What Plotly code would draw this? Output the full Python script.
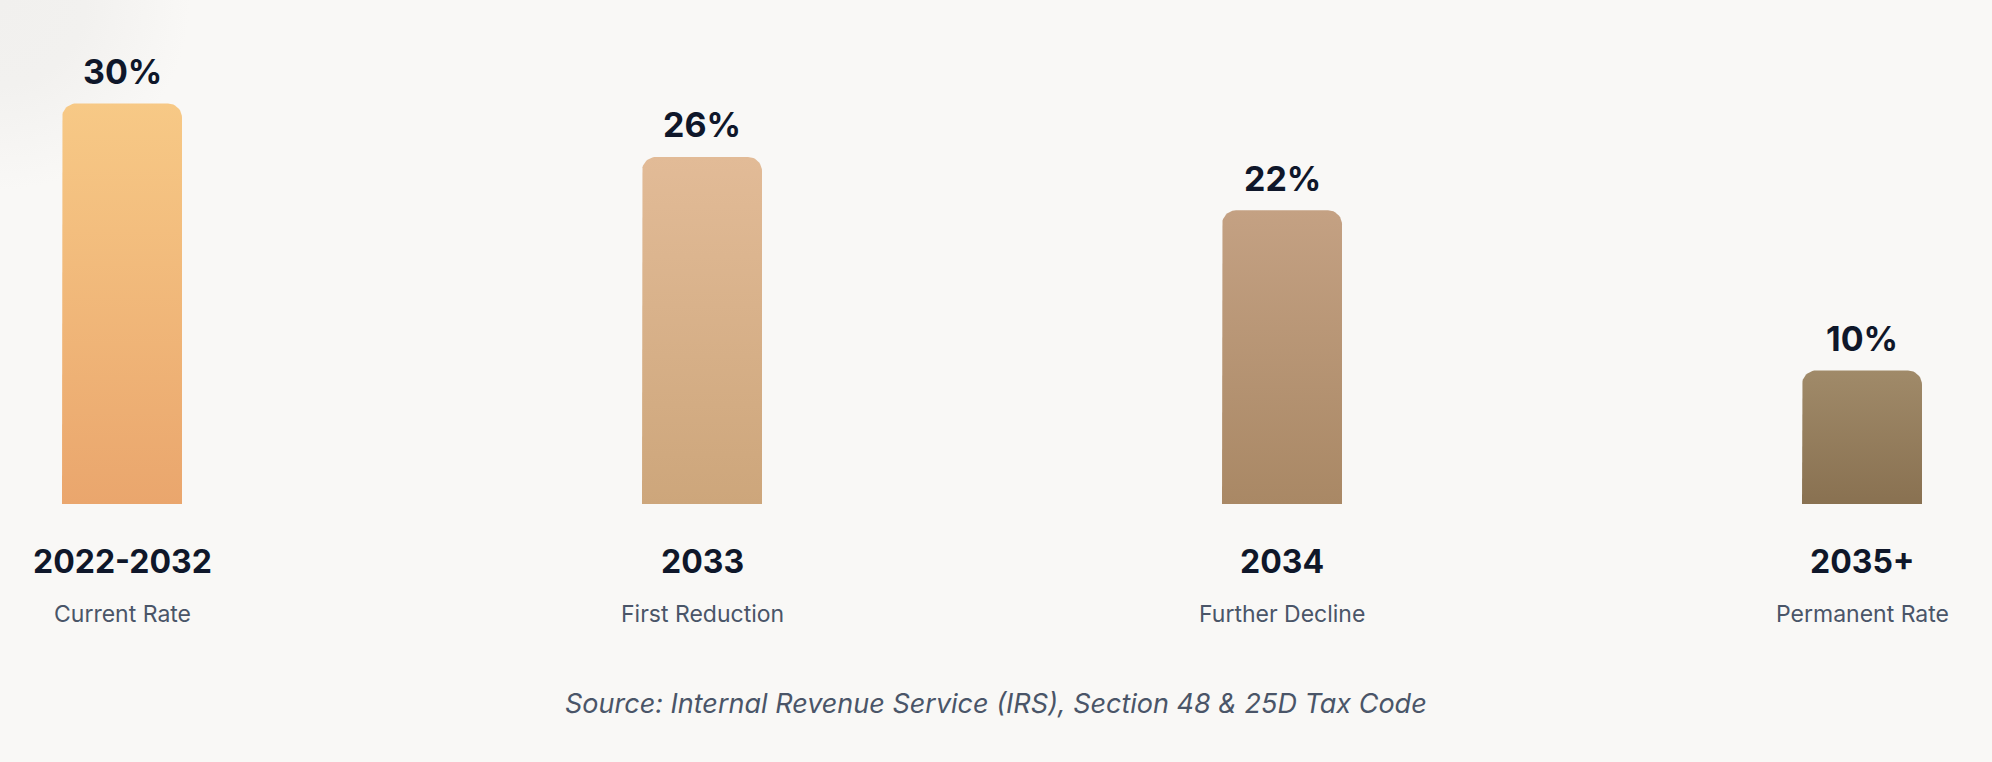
import math
import plotly.graph_objects as go

# ---- data ----
periods = ["2022-2032", "2033", "2034", "2035+"]
subtitles = ["Current Rate", "First Reduction", "Further Decline", "Permanent Rate"]
rates = [30, 26, 22, 10]
top_colors = ["#f7c986", "#e2bb97", "#c4a183", "#a08a69"]
bottom_colors = ["#eaa66d", "#cda67b", "#a98865", "#897151"]
source_text = "Source: Internal Revenue Service (IRS), Section 48 & 25D Tax Code"

BG = "#f9f8f6"

# ---- layout geometry ----
W, H = 1992, 762
first_center_px = 122
spacing_px = 580
base_px = 504
px_per_unit = 13.35
bar_w_px = 120
radius_px = 14

x_range = [-first_center_px / spacing_px, (W - first_center_px) / spacing_px]
y_range = [-(H - base_px) / px_per_unit, base_px / px_per_unit]

bw = bar_w_px / spacing_px
rx = radius_px / spacing_px
ry = radius_px / px_per_unit

fig = go.Figure()

# faint corner shading (top-left), centred on the plot corner
R_px = 190
cx, cy = x_range[0], y_range[1]
dx, dy = R_px / spacing_px, R_px / px_per_unit
fig.add_trace(go.Scatter(
    x=[cx - dx, cx + dx, cx + dx, cx - dx, cx - dx],
    y=[cy - dy, cy - dy, cy + dy, cy + dy, cy - dy],
    mode="lines", fill="toself", line=dict(width=0, color=BG),
    fillgradient=dict(type="radial",
                      colorscale=[[0, "#f1f0ee"], [0.45, "#f2f1ef"], [1, BG]]),
    hoverinfo="skip", showlegend=False,
))


def rounded_bar(xc, v, n=12):
    x0, x1 = xc - bw / 2, xc + bw / 2
    xs, ys = [x0], [0]
    for k in range(n + 1):
        a = math.pi - (math.pi / 2) * k / n
        xs.append(x0 + rx + rx * math.cos(a))
        ys.append(v - ry + ry * math.sin(a))
    for k in range(n + 1):
        a = math.pi / 2 - (math.pi / 2) * k / n
        xs.append(x1 - rx + rx * math.cos(a))
        ys.append(v - ry + ry * math.sin(a))
    xs.append(x1)
    ys.append(0)
    xs.append(x0)
    ys.append(0)
    return xs, ys


for i, (v, tc, bc) in enumerate(zip(rates, top_colors, bottom_colors)):
    xs, ys = rounded_bar(i, v)
    fig.add_trace(go.Scatter(
        x=xs, y=ys, mode="lines", fill="toself",
        line=dict(width=0, color=bc),
        fillgradient=dict(type="vertical", colorscale=[[0, bc], [1, tc]],
                          start=0, stop=v),
        hoverinfo="skip", showlegend=False,
    ))

FONT = "Inter, 'DejaVu Sans', sans-serif"
annotations = []
for i, (p, s, v) in enumerate(zip(periods, subtitles, rates)):
    annotations.append(dict(
        x=i, y=v, xref="x", yref="y", text=f"<b>{v}%</b>", showarrow=False,
        yshift=32, yanchor="middle",
        font=dict(family=FONT, size=34, color="#0f172a"),
    ))
    annotations.append(dict(
        x=i, y=0, xref="x", yref="y", text=f"<b>{p}</b>", showarrow=False,
        yshift=-57, yanchor="middle",
        font=dict(family=FONT, size=32, color="#0f172a"),
    ))
    annotations.append(dict(
        x=i, y=0, xref="x", yref="y", text=s, showarrow=False,
        yshift=-110, yanchor="middle",
        font=dict(family=FONT, size=23, color="#4a5568"),
    ))

annotations.append(dict(
    x=0.5, y=1 - 703 / H, xref="paper", yref="paper",
    text=f"<i>{source_text}</i>", showarrow=False, yanchor="middle",
    font=dict(family=FONT, size=27, color="#4a5568"),
))

fig.update_layout(
    width=W, height=H,
    margin=dict(l=0, r=0, t=0, b=0),
    paper_bgcolor=BG,
    plot_bgcolor=BG,
    xaxis=dict(range=x_range, visible=False, fixedrange=True),
    yaxis=dict(range=y_range, visible=False, fixedrange=True),
    annotations=annotations,
    showlegend=False,
)

fig.write_html(
    "out.html",
    config={"displayModeBar": False},
    post_script="document.body.style.margin='0';"
                "document.body.style.background='" + BG + "';",
)
